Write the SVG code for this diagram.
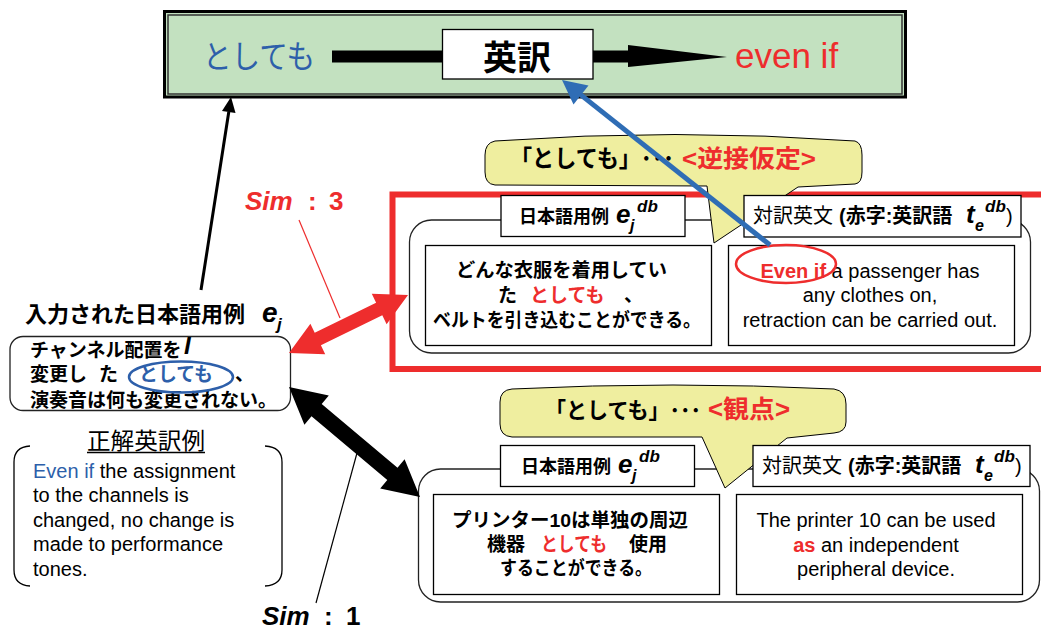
<svg xmlns="http://www.w3.org/2000/svg" width="1041" height="632" viewBox="0 0 1041 632">
<style>
text{font-family:"Liberation Sans","Noto Sans CJK JP",sans-serif;fill:#000}
.b{font-weight:bold}
.i{font-style:italic}
.red{fill:#EE2D2D}
.blue{fill:#2D5FAA}
.box{fill:#fff;stroke:#000;stroke-width:1.3}
.rbox{fill:#fff;stroke:#222;stroke-width:1.3}
.callout{fill:#EFEE9F;stroke:#000;stroke-width:1}
.thin{fill:none;stroke-width:1.2}
</style>
<rect x="0" y="0" width="1041" height="632" fill="#fff"/>

<!-- top translation box -->
<g id="translation">
  <rect x="164.5" y="11.5" width="741" height="85.5" fill="#C3E1C0" stroke="#000" stroke-width="3"/>
  <rect x="168" y="15" width="734" height="79" fill="none" stroke="#333" stroke-width="1.5"/>
  <text x="203" y="68" font-size="32" class="blue" textLength="112" lengthAdjust="spacingAndGlyphs">としても</text>
  <rect x="332" y="50.5" width="112" height="12" fill="#000"/>
  <rect x="593" y="50.5" width="36" height="12" fill="#000"/>
  <polygon points="628,45 727,57 628,67" fill="#000"/>
  <g id="eiyaku">
    <rect x="442.5" y="29.5" width="150.5" height="49.5" class="box"/>
    <text x="517" y="70" font-size="34" class="b" text-anchor="middle">英訳</text>
  </g>
  <text x="735" y="68" font-size="35" class="red">even if</text>
</g>

<!-- red highlight frame -->
<rect x="392.5" y="194.5" width="700" height="174.5" fill="none" stroke="#EE2D2D" stroke-width="6"/>

<!-- example 1 (top) -->
<g id="example1">
  <rect x="409.5" y="220" width="621" height="133" rx="22" class="rbox"/>
  <path id="callout1" class="callout" d="M495,141 Q675,128 855,141 Q862,143 862,155 L862,172 Q862,183 855,184 L798,187 L714,243 L707,186 L495,185 Q485,184 485,172 L485,155 Q485,143 495,141 Z"/>
  <text x="510" y="167" font-size="24" class="b" textLength="164" lengthAdjust="spacingAndGlyphs">「としても」･･･</text>
  <text x="682" y="167" font-size="24" class="b red" textLength="134" lengthAdjust="spacingAndGlyphs">&lt;逆接仮定&gt;</text>

  <rect x="501" y="195.5" width="184" height="41" class="box"/>
  <text y="223" class="b"><tspan x="519" font-size="18">日本語用例</tspan><tspan x="616" font-size="26" class="i">e</tspan><tspan x="630" y="231" font-size="16" class="i">j</tspan><tspan x="637" y="212" font-size="17" class="i">db</tspan></text>

  <rect x="744" y="195.5" width="277" height="41.5" class="box"/>
  <text y="223" font-size="20"><tspan x="753">対訳英文</tspan><tspan x="839" class="b">(赤字:英訳語</tspan><tspan x="966" font-size="26" class="b i">t</tspan><tspan x="975" y="231" font-size="16" class="b i">e</tspan><tspan x="985" y="212" font-size="17" class="b i">db</tspan><tspan x="1006" y="223">)</tspan></text>

  <rect x="425.5" y="245.5" width="286" height="100" class="box"/>
  <text x="456" y="277" font-size="19" class="b" textLength="211" lengthAdjust="spacingAndGlyphs">どんな衣服を着用してい</text>
  <text y="302" font-size="19" class="b"><tspan x="498">た</tspan><tspan x="530" class="red">としても</tspan><tspan x="624">、</tspan></text>
  <text x="433" y="327" font-size="19" class="b" textLength="268" lengthAdjust="spacingAndGlyphs">ベルトを引き込むことができる。</text>

  <rect x="728.5" y="245.5" width="286" height="100" class="box"/>
  <text x="870" y="278" font-size="20" text-anchor="middle"><tspan class="b red">Even if</tspan> a passenger has</text>
  <text x="870" y="302" font-size="20" text-anchor="middle">any clothes on,</text>
  <text x="870" y="327" font-size="20" text-anchor="middle">retraction can be carried out.</text>
  <ellipse cx="786" cy="264" rx="50" ry="19" fill="none" stroke="#EE2D2D" stroke-width="2.5"/>
</g>

<!-- example 2 (bottom) -->
<g id="example2">
  <rect x="418.5" y="469" width="621" height="133" rx="22" class="rbox"/>
  <path id="callout2" class="callout" d="M512,389 Q673,381 834,389 Q846,391 846,404 L846,422 Q846,432 834,433 L787,438 L725,488 L702,437 L512,437 Q500,436 500,424 L500,402 Q500,390 512,389 Z"/>
  <text x="545" y="418" font-size="22" class="b" textLength="156" lengthAdjust="spacingAndGlyphs">「としても」･･･</text>
  <text x="708" y="418" font-size="25" class="b red" textLength="82" lengthAdjust="spacingAndGlyphs">&lt;観点&gt;</text>

  <rect x="500.5" y="445.5" width="194" height="41" class="box"/>
  <text y="473" class="b"><tspan x="521" font-size="18">日本語用例</tspan><tspan x="618" font-size="26" class="i">e</tspan><tspan x="632" y="481" font-size="16" class="i">j</tspan><tspan x="639" y="462" font-size="17" class="i">db</tspan></text>

  <rect x="753" y="445.5" width="277" height="41" class="box"/>
  <text y="473" font-size="20"><tspan x="762">対訳英文</tspan><tspan x="848" class="b">(赤字:英訳語</tspan><tspan x="975" font-size="26" class="b i">t</tspan><tspan x="984" y="481" font-size="16" class="b i">e</tspan><tspan x="994" y="462" font-size="17" class="b i">db</tspan><tspan x="1015" y="473">)</tspan></text>

  <rect x="433.5" y="494.5" width="286" height="100" class="box"/>
  <text x="452" y="527" font-size="19" class="b" textLength="236" lengthAdjust="spacingAndGlyphs">プリンター10は単独の周辺</text>
  <text y="551" font-size="19" class="b"><tspan x="487">機器</tspan><tspan x="541" class="red" textLength="66" lengthAdjust="spacingAndGlyphs">としても</tspan><tspan x="629">使用</tspan></text>
  <text x="500" y="575" font-size="19" class="b" textLength="152" lengthAdjust="spacingAndGlyphs">することができる。</text>

  <rect x="736.5" y="494.5" width="286" height="100" class="box"/>
  <text x="876" y="527" font-size="20" text-anchor="middle">The printer 10 can be used</text>
  <text x="876" y="552" font-size="20" text-anchor="middle"><tspan class="b red">as</tspan> an independent</text>
  <text x="876" y="576" font-size="20" text-anchor="middle">peripheral device.</text>
</g>

<!-- input example -->
<g id="input">
  <text y="322" class="b"><tspan x="25" font-size="22">入力された日本語用例</tspan><tspan x="262" font-size="28" class="i">e</tspan><tspan x="277" y="330" font-size="17" class="i">j</tspan></text>
  <rect x="10" y="336.5" width="280.5" height="74" rx="13" class="rbox"/>
  <text x="30" y="357" font-size="19" class="b">チャンネル配置を</text>
  <text x="184" y="354" font-size="24" class="b i">I</text>
  <text y="381" font-size="19" class="b"><tspan x="30">変更し</tspan><tspan x="99">た</tspan><tspan x="139" class="blue" textLength="74" lengthAdjust="spacingAndGlyphs">としても</tspan><tspan x="235">、</tspan></text>
  <text x="30" y="407" font-size="19" class="b">演奏音は何も変更されない。</text>
  <ellipse cx="181" cy="377" rx="52" ry="15.5" fill="none" stroke="#2D5FAA" stroke-width="2.5"/>
</g>

<!-- correct translation -->
<g id="reference">
  <text x="87" y="449" font-size="23" textLength="118" lengthAdjust="spacingAndGlyphs">正解英訳例</text>
  <line x1="87" y1="452.5" x2="205" y2="452.5" stroke="#000" stroke-width="1.3"/>
  <path d="M30,446 Q14,447 14,462 L14,570 Q14,585 30,586" fill="none" stroke="#000" stroke-width="1.3"/>
  <path d="M265,446 Q282,447 282,462 L282,570 Q282,585 265,586" fill="none" stroke="#000" stroke-width="1.3"/>
  <text x="33" y="478" font-size="20"><tspan class="blue">Even if</tspan> the assignment</text>
  <text x="33" y="502" font-size="20">to the channels is</text>
  <text x="33" y="527" font-size="20">changed, no change is</text>
  <text x="33" y="551" font-size="20">made to performance</text>
  <text x="33" y="576" font-size="20">tones.</text>
</g>

<!-- similarity labels -->
<g id="sim3">
  <text y="210" font-size="26" class="b red"><tspan x="245" class="i">Sim</tspan><tspan x="308">:</tspan><tspan x="329">3</tspan></text>
</g>
<g id="sim1">
  <text y="625" font-size="26" class="b"><tspan x="262" class="i">Sim</tspan><tspan x="324">:</tspan><tspan x="346">1</tspan></text>
</g>

<!-- connectors -->
<g id="connectors">
  <line x1="299" y1="220" x2="340" y2="318" stroke="#EE2D2D" class="thin"/>
  <line x1="357" y1="453" x2="316" y2="603" stroke="#000" class="thin"/>
  <line x1="201" y1="290" x2="228.8" y2="111.8" stroke="#000" stroke-width="3"/>
  <polygon points="231,97 235.5,113 222,111" fill="#000"/>
  <polygon fill="#EE2D2D" points="289,353 325.2,354.3 320.9,345.3 382.3,315.3 386.6,324.3 408,295 371.8,293.7 376.1,302.7 314.7,332.7 310.4,323.7"/>
  <polygon fill="#000" points="289,387 304.4,424.7 311.5,416.2 387.3,480 380.2,488.5 420,497 404.6,459.3 397.5,467.8 321.7,404 328.8,395.5"/>
  <line x1="770" y1="245" x2="580.8" y2="94.9" stroke="#2F6DB5" stroke-width="5"/>
  <polygon points="562,80 588.5,85.5 573.5,104.5" fill="#2F6DB5"/>
</g>
</svg>
